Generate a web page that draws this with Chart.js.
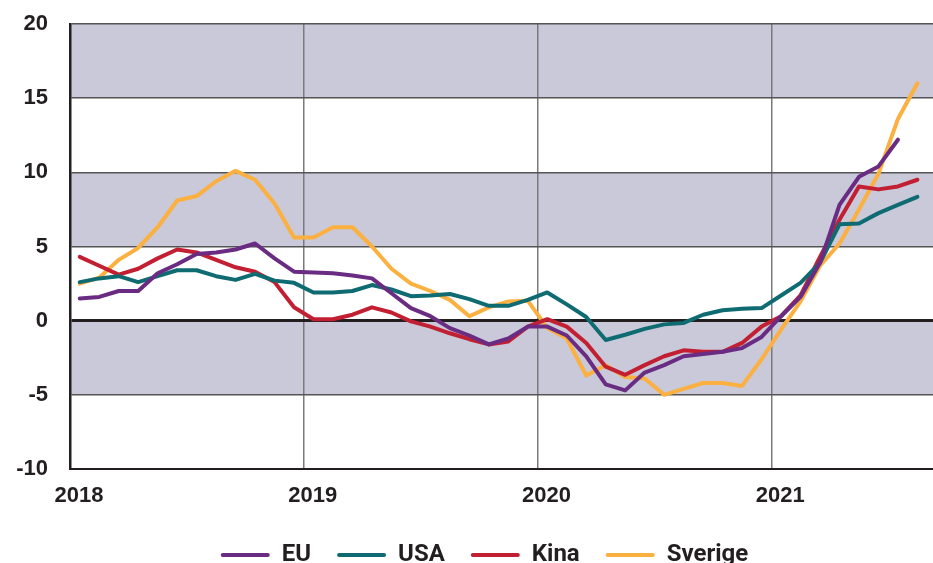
<!DOCTYPE html>
<html>
<head>
<meta charset="utf-8">
<script src="https://cdn.jsdelivr.net/npm/chart.js@4.4.1/dist/chart.umd.min.js"></script>
<style>
    html, body { margin: 0; padding: 0; background: #fff; }
    #wrap { width: 933px; height: 563px; }
</style>
</head>
<body>
<div id="wrap"><canvas id="chart"></canvas></div>
<script>
// monthly values, Jan 2018 onwards
const years = [2018, 2019, 2020, 2021];
const euValues = [1.5, 1.6, 2.0, 2.0, 3.2, 3.8, 4.5, 4.6, 4.8, 5.2, 4.2, 3.3,
    3.25, 3.2, 3.05, 2.85, 1.85, 0.85, 0.3, -0.5, -1.0, -1.6, -1.2, -0.4,
    -0.4, -1.0, -2.4, -4.3, -4.7, -3.5, -3.0, -2.4, -2.25, -2.1, -1.85, -1.1,
    0.3, 1.6, 3.9, 7.8, 9.7, 10.4, 12.2];
const usaValues = [2.6, 2.85, 3.0, 2.6, 3.0, 3.4, 3.4, 3.0, 2.75, 3.15, 2.7, 2.55,
    1.9, 1.9, 2.0, 2.4, 2.1, 1.65, 1.7, 1.8, 1.45, 1.0, 1.0, 1.4,
    1.9, 1.1, 0.25, -1.3, -0.95, -0.55, -0.25, -0.15, 0.4, 0.7, 0.8, 0.85,
    1.7, 2.55, 3.9, 6.5, 6.55, 7.25, 7.8, 8.35];
const kinaValues = [4.3, 3.7, 3.1, 3.5, 4.2, 4.8, 4.6, 4.1, 3.6, 3.3, 2.6, 0.9,
    0.1, 0.1, 0.4, 0.9, 0.55, -0.05, -0.4, -0.85, -1.25, -1.6, -1.4, -0.4,
    0.1, -0.4, -1.5, -3.1, -3.65, -3.0, -2.4, -2.0, -2.1, -2.1, -1.5, -0.4,
    0.3, 1.7, 4.3, 6.8, 9.05, 8.85, 9.05, 9.5];
const sverigeValues = [2.5, 2.9, 4.1, 4.9, 6.3, 8.1, 8.4, 9.4, 10.1, 9.5, 7.9, 5.6,
    5.6, 6.3, 6.3, 5.0, 3.5, 2.5, 2.0, 1.4, 0.3, 0.9, 1.3, 1.35,
    -0.5, -1.2, -3.7, -3.0, -3.8, -3.9, -5.0, -4.6, -4.2, -4.2, -4.4, -2.6,
    -0.6, 1.3, 3.7, 5.2, 7.5, 9.9, 13.6, 16.0];
const yTicks = [-10, -5, 0, 5, 10, 15, 20];
const shadedBands = [[15, 20], [5, 10], [-5, 0]];

const TEXT = '#231f20';
const toPoints = vals => vals.map((v, i) => ({ x: i + 0.5, y: v }));

const bandPlugin = {
    id: 'bands',
    beforeDraw(chart) {
        const { ctx, chartArea, scales } = chart;
        ctx.save();
        ctx.fillStyle = '#c9c9da';
        shadedBands.forEach(([lo, hi]) => {
            const top = scales.y.getPixelForValue(hi);
            const bottom = scales.y.getPixelForValue(lo);
            ctx.fillRect(chartArea.left, top, chartArea.right - chartArea.left, bottom - top);
        });
        ctx.restore();
    }
};

// legend in the original sits a bit right of the page centre
const legendShift = {
    id: 'legendShift',
    afterLayout(chart) {
        chart.legend.left += 18;
        chart.legend.right += 18;
    }
};

const line = (label, vals, color) => ({
    label,
    data: toPoints(vals),
    borderColor: color,
    backgroundColor: color,
    borderWidth: 4,
    pointRadius: 0,
    tension: 0,
    borderJoinStyle: 'round',
    borderCapStyle: 'round'
});

new Chart(document.getElementById('chart'), {
    type: 'line',
    data: {
        datasets: [
            line('EU', euValues, '#6a2c82'),
            line('USA', usaValues, '#0f6b72'),
            line('Kina', kinaValues, '#c31f33'),
            line('Sverige', sverigeValues, '#fbb040')
        ]
    },
    options: {
        responsive: true,
        maintainAspectRatio: false,
        animation: false,
        layout: { padding: { top: 24, left: 0, right: 0, bottom: 0 } },
        plugins: {
            tooltip: { enabled: false },
            legend: {
                position: 'bottom',
                maxHeight: 46,
                labels: {
                    color: TEXT,
                    font: { family: 'Roboto, sans-serif', weight: 'bold', size: 24 },
                    boxWidth: 49,
                    boxHeight: 4,
                    padding: 26,
                    useBorderRadius: true,
                    borderRadius: 2,
                    generateLabels(chart) {
                        return chart.data.datasets.map((ds, i) => ({
                            text: ds.label,
                            fillStyle: ds.borderColor,
                            strokeStyle: ds.borderColor,
                            lineWidth: 0,
                            borderRadius: 2,
                            fontColor: TEXT,
                            datasetIndex: i
                        }));
                    }
                }
            }
        },
        scales: {
            x: {
                type: 'linear',
                min: 0,
                max: 44.3,
                afterBuildTicks(scale) {
                    scale.ticks = years.map((y, i) => ({ value: i * 12 }));
                },
                afterFit(scale) { scale.height = 48; },
                ticks: {
                    color: TEXT,
                    font: { family: '"Liberation Sans", Arial, sans-serif', weight: 'bold', size: 22 },
                    padding: 14,
                    labelOffset: 9,
                    maxRotation: 0,
                    callback: v => years[v / 12]
                },
                grid: {
                    drawTicks: false,
                    color: ctx => ctx.tick && ctx.tick.value === 0 ? 'rgba(0,0,0,0)' : '#7a7a7a',
                    lineWidth: 1.5
                },
                border: { display: true, color: TEXT, width: 2 }
            },
            y: {
                min: -10,
                max: 20,
                afterBuildTicks(scale) {
                    scale.ticks = yTicks.map(v => ({ value: v }));
                },
                afterFit(scale) {
                    scale.width = 70;
                    scale.paddingTop = 0;
                    scale.paddingBottom = 0;
                },
                ticks: {
                    color: TEXT,
                    font: { family: '"Liberation Sans", Arial, sans-serif', weight: 'bold', size: 22 },
                    padding: 22
                },
                grid: {
                    drawTicks: false,
                    color: ctx => {
                        const v = ctx.tick && ctx.tick.value;
                        if (v === 0) return TEXT;
                        if (v === -10) return 'rgba(0,0,0,0)';
                        return '#555';
                    },
                    lineWidth: ctx => (ctx.tick && ctx.tick.value === 0 ? 3 : 1.5)
                },
                border: { display: true, color: TEXT, width: 2.5 }
            }
        }
    },
    plugins: [bandPlugin, legendShift]
});
</script>
</body>
</html>
